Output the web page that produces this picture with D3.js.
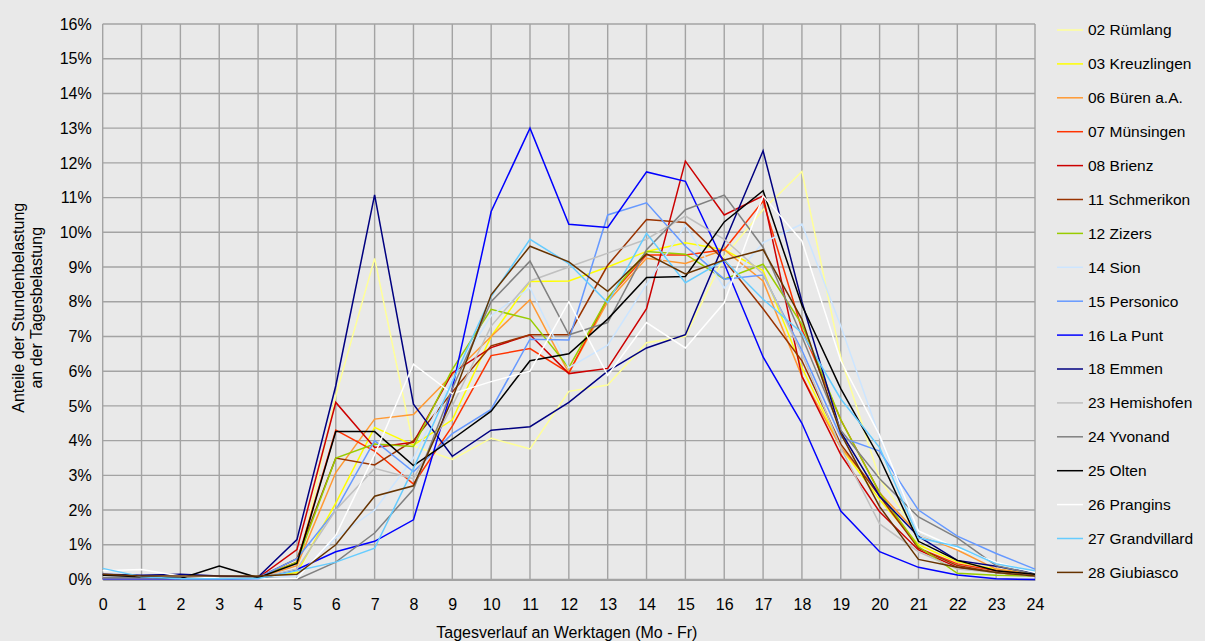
<!DOCTYPE html>
<html>
<head>
<meta charset="utf-8">
<script src="https://cdn.jsdelivr.net/npm/d3@7"></script>
<style>
  body { margin: 0; background: #e9e9e9; }
  svg text { font-family: "Liberation Sans", Arial, sans-serif; fill: #000; }
</style>
</head>
<body>
<div id="chart"></div>
<script>
// hours on the x axis (0..24)
const hours = d3.range(0, 25);
const yTicks = d3.range(0, 17); // 0% .. 16%

const seriesNames = [
  "02 Rümlang", "03 Kreuzlingen", "06 Büren a.A.", "07 Münsingen", "08 Brienz",
  "11 Schmerikon", "12 Zizers", "14 Sion", "15 Personico", "16 La Punt",
  "18 Emmen", "23 Hemishofen", "24 Yvonand", "25 Olten", "26 Prangins",
  "27 Grandvillard", "28 Giubiasco"
];
const seriesColors = [
  "#ffff99", "#ffff00", "#ff9933", "#ff3300", "#cc0000",
  "#993300", "#99cc00", "#cce5ff", "#6699ff", "#0000ff",
  "#000080", "#c0c0c0", "#808080", "#000000", "#ffffff",
  "#66ccff", "#663300"
];

// values in % per hour
const ruemlang     = [0.05,0.05,0.05,0.05,0.05,0.2,5.3,9.25,3.85,3.46,4.07,3.76,5.42,5.6,6.82,7.0,9.3,10.65,11.75,6.4,2.9,1.3,0.9,0.45,0.2];
const kreuzlingen  = [0.05,0.05,0.05,0.05,0.05,0.2,2.2,4.38,3.87,4.6,7.0,8.58,8.6,9.0,9.45,9.7,9.5,8.9,6.1,3.8,2.3,1.0,0.5,0.3,0.15];
const bueren       = [0.05,0.05,0.05,0.05,0.05,0.4,3.08,4.62,4.75,5.9,7.0,8.06,5.95,8.0,9.25,9.1,9.5,8.6,5.85,3.8,2.5,1.3,0.85,0.3,0.15];
const muensingen   = [0.05,0.05,0.05,0.05,0.05,0.5,4.3,3.7,2.75,4.42,6.45,6.65,5.95,8.1,9.35,9.35,9.5,10.9,7.2,4.6,2.5,0.9,0.45,0.25,0.1];
const brienz       = [0.05,0.05,0.05,0.05,0.05,0.86,5.1,3.8,3.95,5.95,6.68,7.05,5.93,6.08,7.8,12.05,10.5,11.05,5.85,3.6,1.95,0.85,0.35,0.2,0.1];
const schmerikon   = [0.05,0.05,0.05,0.05,0.05,0.6,3.5,3.3,4.0,5.4,6.73,7.05,7.05,9.05,10.37,10.28,9.2,7.8,6.3,3.9,2.4,0.9,0.4,0.2,0.1];
const zizers       = [0.05,0.05,0.05,0.05,0.05,0.5,3.5,3.9,3.83,6.05,7.78,7.5,6.1,8.1,9.45,9.37,8.65,9.08,7.35,4.6,2.5,0.95,0.18,0.12,0.1];
const sion         = [0.05,0.05,0.05,0.05,0.05,0.1,1.2,2.0,3.5,5.8,7.6,8.4,6.1,6.75,8.5,10.2,8.4,9.7,10.24,7.3,4.1,1.3,0.9,0.45,0.2];
const personico    = [0.05,0.05,0.05,0.05,0.05,0.6,2.0,4.0,3.1,4.2,4.9,6.92,6.9,10.5,10.85,9.6,8.65,8.77,6.6,4.1,3.7,2.0,1.25,0.75,0.3];
const laPunt       = [0.02,0.02,0.02,0.02,0.02,0.29,0.8,1.1,1.72,5.5,10.6,13.0,10.23,10.14,11.74,11.47,9.1,6.41,4.5,1.97,0.8,0.35,0.13,0.02,0.0];
const emmen        = [0.15,0.12,0.15,0.1,0.07,1.15,5.58,11.08,5.05,3.55,4.3,4.4,5.1,6.0,6.67,7.05,9.7,12.35,8.0,4.25,2.4,1.24,0.55,0.38,0.17];
const hemishofen   = [0.05,0.05,0.05,0.05,0.05,0.3,2.0,3.2,2.9,5.0,7.3,8.6,9.0,9.4,9.8,10.47,9.8,8.8,6.5,3.8,1.6,0.8,0.3,0.2,0.1];
const yvonand      = [0.05,0.05,0.05,0.05,0.05,0.0,0.5,1.34,2.6,5.5,8.0,9.17,7.05,7.4,9.5,10.65,11.07,9.57,7.0,4.3,2.9,1.8,1.2,0.4,0.15];
const olten        = [0.12,0.08,0.03,0.39,0.05,0.46,4.26,4.26,3.28,4.04,4.85,6.3,6.5,7.5,8.7,8.73,10.3,11.2,7.9,5.5,3.5,1.1,0.55,0.25,0.15];
const prangins     = [0.25,0.29,0.1,0.04,0.02,0.03,1.27,3.6,6.2,5.35,5.7,6.0,8.0,5.88,7.4,6.67,7.97,11.05,9.75,6.3,4.15,1.4,0.9,0.5,0.2];
const grandvillard = [0.32,0.08,0.02,0.02,0.03,0.25,0.5,0.9,3.2,5.7,8.15,9.8,9.1,7.97,9.97,8.55,9.2,8.07,7.1,5.2,3.8,1.2,0.95,0.45,0.25];
const giubiasco    = [0.15,0.1,0.1,0.1,0.1,0.15,1.0,2.4,2.7,5.2,8.2,9.6,9.15,8.3,9.38,8.8,9.2,9.5,7.5,4.2,2.1,0.58,0.35,0.2,0.1];

const seriesValues = [
  ruemlang, kreuzlingen, bueren, muensingen, brienz, schmerikon, zizers, sion,
  personico, laPunt, emmen, hemishofen, yvonand, olten, prangins, grandvillard, giubiasco
];

const W = 1205, H = 641;
const margin = { top: 24, right: 170, bottom: 61.5, left: 102.7 };
const width = W - margin.left - margin.right;
const height = H - margin.top - margin.bottom;
const fontSize = "16px";

const svg = d3.select("#chart").append("svg")
  .attr("width", W)
  .attr("height", H);

svg.append("rect").attr("width", W).attr("height", H).attr("fill", "#e9e9e9");

const g = svg.append("g")
  .attr("transform", "translate(" + margin.left + "," + margin.top + ")");

const x = d3.scaleLinear().domain([0, 24]).range([0, width]);
const y = d3.scaleLinear().domain([0, 16]).range([height, 0]);

// grid lines
g.append("g")
  .selectAll("line.h")
  .data(yTicks)
  .join("line")
  .attr("x1", 0).attr("x2", width)
  .attr("y1", (d) => y(d)).attr("y2", (d) => y(d))
  .attr("stroke", "#a3a3a3").attr("stroke-width", 1.4);

g.append("g")
  .selectAll("line.v")
  .data(hours)
  .join("line")
  .attr("y1", 0).attr("y2", height)
  .attr("x1", (d) => x(d)).attr("x2", (d) => x(d))
  .attr("stroke", "#a3a3a3").attr("stroke-width", 1.4);

// axes (only labels, lines come from the grid)
const yAxis = g.append("g")
  .call(d3.axisLeft(y).tickValues(yTicks).tickFormat((d) => d + "%").tickSize(0).tickPadding(11));
yAxis.select(".domain").remove();
yAxis.selectAll("text").style("font-size", fontSize);

const xAxis = g.append("g")
  .attr("transform", "translate(0," + height + ")")
  .call(d3.axisBottom(x).tickValues(hours).tickFormat(d3.format("d")).tickSize(0).tickPadding(19));
xAxis.select(".domain").attr("stroke", "#a3a3a3").attr("stroke-width", 2);
xAxis.selectAll("text").style("font-size", fontSize);

// the series lines
const line = d3.line()
  .x((d, i) => x(hours[i]))
  .y((d) => y(d));

g.append("g")
  .selectAll("path")
  .data(seriesValues)
  .join("path")
  .attr("d", (d) => line(d))
  .attr("fill", "none")
  .attr("stroke", (d, i) => seriesColors[i])
  .attr("stroke-width", 1.5)
  .attr("stroke-linejoin", "miter");

// axis titles
svg.append("text")
  .attr("x", margin.left + width / 2 - 2)
  .attr("y", 638)
  .attr("text-anchor", "middle")
  .style("font-size", fontSize)
  .text("Tagesverlauf an Werktagen (Mo - Fr)");

const yTitle = svg.append("text")
  .attr("transform", "translate(24," + (margin.top + height / 2 + 6) + ") rotate(-90)")
  .attr("text-anchor", "middle")
  .style("font-size", fontSize);
yTitle.append("tspan").attr("x", 0).attr("dy", 0).text("Anteile der Stundenbelastung");
yTitle.append("tspan").attr("x", 0).attr("dy", 18).text("an der Tagesbelastung");

// legend
const legend = svg.append("g").attr("transform", "translate(1057,30)");
const item = legend.selectAll("g")
  .data(seriesNames)
  .join("g")
  .attr("transform", (d, i) => "translate(0," + i * 33.9 + ")");
item.append("line")
  .attr("x1", 0).attr("x2", 26)
  .attr("stroke", (d, i) => seriesColors[i])
  .attr("stroke-width", 1.5);
item.append("text")
  .attr("x", 31)
  .attr("dy", "0.35em")
  .style("font-size", "15.5px")
  .text((d) => d);
</script>
</body>
</html>
